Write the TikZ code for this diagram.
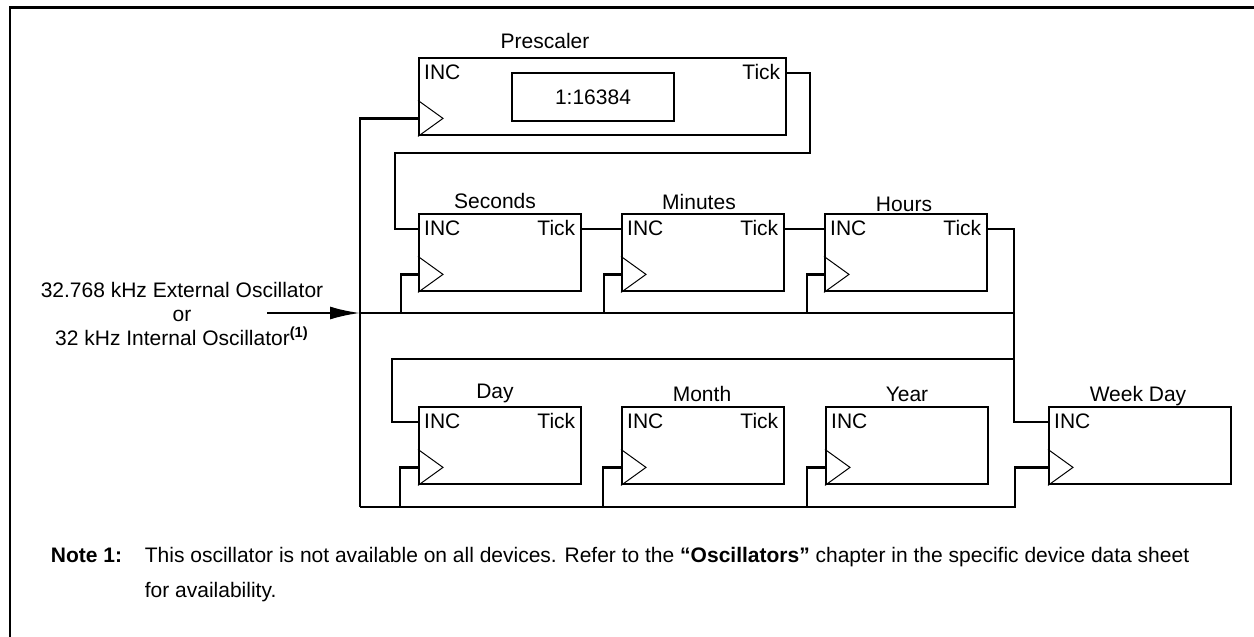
\documentclass[tikz,border=0pt]{standalone}
\usepackage{fontspec}
\setmainfont{Liberation Sans}
\usetikzlibrary{arrows.meta}

\begin{document}
\begin{tikzpicture}[x=0.5pt,y=-0.5pt,line width=1.2pt,font=\fontsize{10.5}{11.5}\selectfont,
  reg/.style={draw,rectangle,anchor=north west,inner sep=0pt,minimum width=81pt,minimum height=38.5pt},
  clk/.style={line width=0.5pt}]
\useasboundingbox (0,0) rectangle (1254,637);

% Frame
\draw (10,637) -- (10,7.5) -- (1254,7.5);

% Prescaler
\node[reg,minimum width=183.5pt] (pre) at (418,57) {};
\node[anchor=base] (preName) at (545,48) {Prescaler};
\node[draw,rectangle,minimum width=81pt,minimum height=24pt] (ratio) at (593,97) {1:16384};

% Counters
\node[reg] (sec) at (418,213) {};
\node[reg] (min) at (621,213) {};
\node[reg] (hrs) at (824,213) {};
\node[reg] (day) at (418,406) {};
\node[reg] (mon) at (621,406) {};
\node[reg] (yr) at (825,406) {};
\node[reg,minimum width=91pt] (wday) at (1048,406) {};
\node[anchor=base] (secName) at (495,208) {Seconds};
\node[anchor=base] (minName) at (699,209) {Minutes};
\node[anchor=base] (hrsName) at (904,211) {Hours};
\node[anchor=base] (dayName) at (495,398) {Day};
\node[anchor=base] (monName) at (702,401) {Month};
\node[anchor=base] (yrName) at (907,401) {Year};
\node[anchor=base] (wdayName) at (1138,401) {Week Day};

% Ports
\foreach \n in {pre,sec,min,hrs,day,mon,yr,wday}{
  \coordinate (\n-inc) at ([shift={(0,16)}]\n.north west);
  \coordinate (\n-tick) at ([shift={(0,16)}]\n.north east);
  \coordinate (\n-clk) at ([shift={(0,-18)}]\n.south west);
  \draw[clk] ([shift={(0,-36)}]\n.south west) -- ([shift={(25,-18)}]\n.south west) -- (\n.south west);
  \node[anchor=base west,inner sep=0pt] (\n-inclbl) at ([shift={(5,22)}]\n.north west) {INC};
}
\foreach \n in {pre,sec,min,hrs,day,mon}{
  \node[anchor=base east,inner sep=0pt] (\n-ticklbl) at ([shift={(-6,22)}]\n.north east) {Tick};
}

% Oscillator input
\node[anchor=base] (oscA) at (182,297) {32.768 kHz External Oscillator};
\node[anchor=base] (oscB) at (182,321) {or};
\node[anchor=base] (oscC) at (182,345) {32 kHz Internal Oscillator\textsuperscript{\textbf{(1)}}};
\coordinate (oscIn) at (267,313);
\coordinate (clkMid) at (360,313);
\coordinate (clkBot) at (360,507);
\coordinate (wdayTap) at (1015,507);
\draw[-{Latex[length=15pt,width=6.5pt]}] (oscIn) -- (clkMid);
\draw (pre-clk) -| (clkBot);

% Tick chain
\coordinate (preLoop) at (810,153);
\coordinate (secLoop) at (395,153);
\coordinate (carry) at (1014,359);
\coordinate (dayLoop) at (392,359);
\draw (pre-tick) -| (preLoop) -- (secLoop) |- (sec-inc);
\draw (sec-tick) -- (min-inc);
\draw (min-tick) -- (hrs-inc);
\draw (hrs-tick) -| (carry) |- (wday-inc);
\draw (carry) -- (dayLoop) |- (day-inc);

% Clock buses
\draw (clkMid) -- (clkMid -| carry);
\draw (clkBot) -- (wdayTap) |- (wday-clk);
\foreach \n in {sec,min,hrs}
  \draw (\n-clk) -- ++(-17,0) coordinate (\n-tap) -- (\n-tap |- clkMid);
\foreach \n in {day,mon,yr}
  \draw (\n-clk) -- ++(-18,0) coordinate (\n-tap) -- (\n-tap |- clkBot);

% Note
\node[anchor=base west] (noteHead) at (43,562) {\textbf{Note 1:}};
\node[anchor=base west] (noteA) at (137,562) {This oscillator is not available on all devices. Refer to the \textbf{“Oscillators”} chapter in the specific device data sheet};
\node[anchor=base west] (noteB) at (137,597) {for availability.};
\end{tikzpicture}
\end{document}
